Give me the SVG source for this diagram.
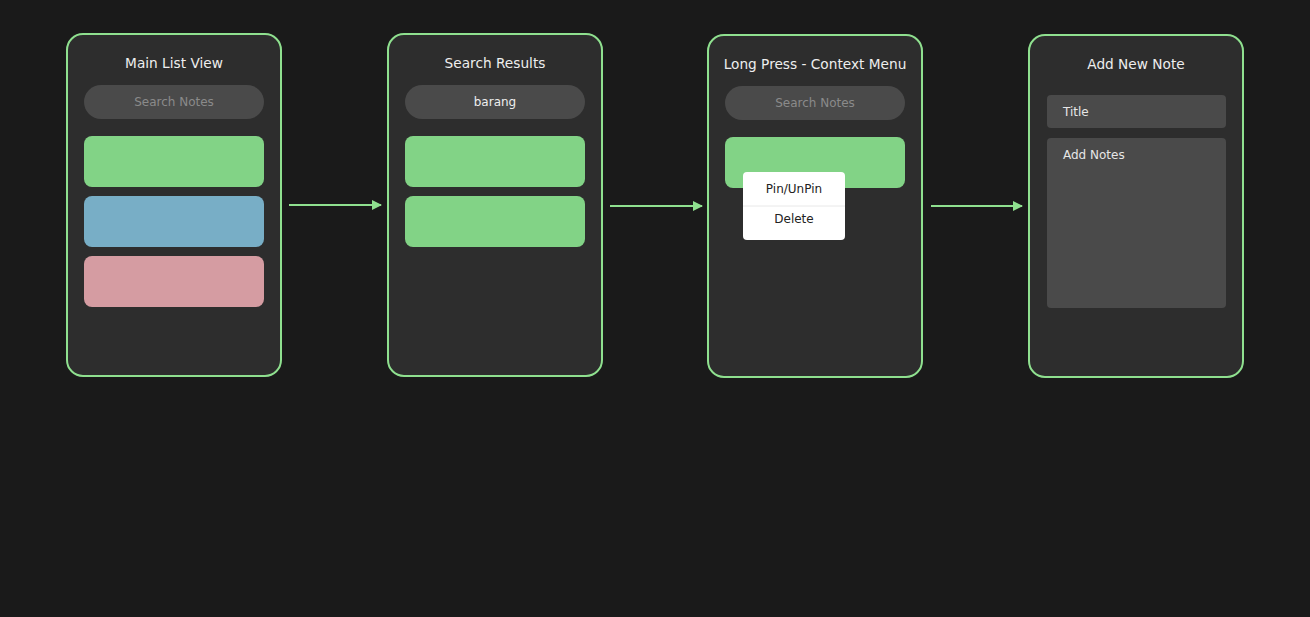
<svg xmlns="http://www.w3.org/2000/svg" width="1310" height="617" viewBox="0 0 1310 617">
<style>
.panel{fill:#2d2d2d;stroke:#8fe08f;stroke-width:2}
.title{font-family:"DejaVu Sans",sans-serif;font-size:13.7px;fill:#eeeeee;text-anchor:middle}
.search{fill:#4a4a4a}
.ph{font-family:"DejaVu Sans",sans-serif;font-size:12px;fill:#8a8a8a;text-anchor:middle}
.val{font-family:"DejaVu Sans",sans-serif;font-size:12px;fill:#eeeeee;text-anchor:middle}
.green{fill:#82d386}
.blue{fill:#78aec6}
.pink{fill:#d59ca2}
.field{fill:#4a4a4a}
.ftext{font-family:"DejaVu Sans",sans-serif;font-size:12px;fill:#e6e6e6}
.menu{font-family:"DejaVu Sans",sans-serif;font-size:12px;fill:#222222;text-anchor:middle}
.conn{stroke:#8fe08f;stroke-width:2;fill:none}
</style>
<defs>
<marker id="arr" markerWidth="10" markerHeight="10" refX="9" refY="5" orient="auto" markerUnits="userSpaceOnUse">
<path d="M0,0 L10,5 L0,10 z" fill="#8fe08f"/>
</marker>
</defs>
<rect width="1310" height="617" fill="#1a1a1a"/>
<g id="main-list-view">
<rect class="panel" x="67" y="34" width="214" height="342" rx="16"/>
<text class="title" x="174" y="68">Main List View</text>
<rect class="search" x="84" y="85" width="180" height="34" rx="17"/>
<text class="ph" x="174" y="106">Search Notes</text>
<rect class="green" x="84" y="136" width="180" height="51" rx="8"/>
<rect class="blue" x="84" y="196" width="180" height="51" rx="8"/>
<rect class="pink" x="84" y="256" width="180" height="51" rx="8"/>
</g>
<g id="search-results">
<rect class="panel" x="388" y="34" width="214" height="342" rx="16"/>
<text class="title" x="495" y="68">Search Results</text>
<rect class="search" x="405" y="85" width="180" height="34" rx="17"/>
<text class="val" x="495" y="106">barang</text>
<rect class="green" x="405" y="136" width="180" height="51" rx="8"/>
<rect class="green" x="405" y="196" width="180" height="51" rx="8"/>
</g>
<g id="context-menu">
<rect class="panel" x="708" y="35" width="214" height="342" rx="16"/>
<text class="title" x="815" y="69">Long Press - Context Menu</text>
<rect class="search" x="725" y="86" width="180" height="34" rx="17"/>
<text class="ph" x="815" y="107">Search Notes</text>
<rect class="green" x="725" y="137" width="180" height="51" rx="8"/>
<rect x="743" y="172" width="102" height="68" rx="4" fill="#ffffff"/>
<line x1="743" y1="206" x2="845" y2="206" stroke="#e8e8e8" stroke-width="1"/>
<text class="menu" x="794" y="193">Pin/UnPin</text>
<text class="menu" x="794" y="223">Delete</text>
</g>
<g id="add-new-note">
<rect class="panel" x="1029" y="35" width="214" height="342" rx="16"/>
<text class="title" x="1136" y="69">Add New Note</text>
<rect class="field" x="1047" y="95" width="179" height="33" rx="4"/>
<text class="ftext" x="1063" y="116">Title</text>
<rect class="field" x="1047" y="138" width="179" height="170" rx="4"/>
<text class="ftext" x="1063" y="159">Add Notes</text>
</g>
<g id="connectors">
<line class="conn" x1="289" y1="205" x2="381" y2="205" marker-end="url(#arr)"/>
<line class="conn" x1="610" y1="206" x2="702" y2="206" marker-end="url(#arr)"/>
<line class="conn" x1="931" y1="206" x2="1022" y2="206" marker-end="url(#arr)"/>
</g>
</svg>
